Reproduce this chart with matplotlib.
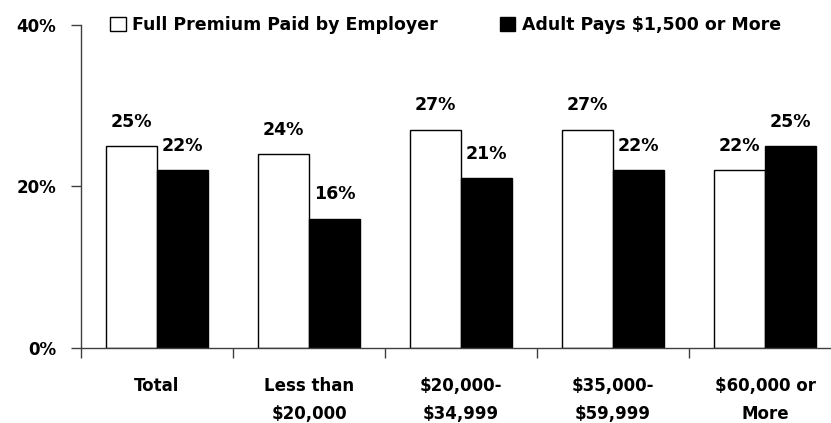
import matplotlib

matplotlib.use("Agg")
import matplotlib.pyplot as plt  # noqa: E402
import numpy as np  # noqa: E402
from matplotlib.patches import Patch  # noqa: E402
from matplotlib.ticker import FixedLocator  # noqa: E402

categories = ["Total", "Less than\n$20,000", "$20,000-\n$34,999",
              "$35,000-\n$59,999", "$60,000 or\nMore"]
full_premium = [25, 24, 27, 27, 22]
adult_pays = [22, 16, 21, 22, 25]
series_names = ["Full Premium Paid by Employer", "Adult Pays $1,500 or More"]
y_ticks = [0, 20, 40]

INK = "#000000"
AXIS = "#404040"

plt.rcParams.update({
    "font.family": ["DejaVu Sans"],
    "font.weight": "bold",
    "font.size": 12,
})

fig = plt.figure(figsize=(8.31, 4.23), dpi=100)
ax = fig.add_axes([0.0975, 0.178, 0.9146, 0.763])

x = np.arange(len(categories))
w = 0.335
b1 = ax.bar(x - w / 2, full_premium, w, color="white", edgecolor=INK, linewidth=1)
b2 = ax.bar(x + w / 2, adult_pays, w, color=INK, edgecolor=INK, linewidth=1)

for bars, vals in ((b1, full_premium), (b2, adult_pays)):
    for rect, v in zip(bars, vals):
        ax.annotate(f"{v}%", (rect.get_x() + rect.get_width() / 2, v),
                    xytext=(0, 14), textcoords="offset points",
                    ha="center", va="baseline", fontsize=12.5, fontweight="bold")

ax.set_xlim(-0.5, len(categories) - 0.5)
ax.set_ylim(0, 40)
ax.set_yticks(y_ticks)
ax.set_yticklabels([f"{t}%" for t in y_ticks])

ax.xaxis.set_major_locator(FixedLocator(np.arange(len(categories) + 1) - 0.5))
ax.xaxis.set_major_formatter(plt.NullFormatter())
ax.xaxis.set_minor_locator(FixedLocator(x))
ax.set_xticklabels(categories, minor=True, linespacing=1.75)
ax.tick_params(axis="x", which="minor", length=0, pad=21)
ax.tick_params(axis="x", which="major", length=7, width=1, color=AXIS, direction="out")
ax.tick_params(axis="y", length=7, width=1, color=AXIS, direction="out", pad=11)

for side in ("top", "right"):
    ax.spines[side].set_visible(False)
for side in ("left", "bottom"):
    ax.spines[side].set_color(AXIS)
    ax.spines[side].set_linewidth(1)

handles = [Patch(facecolor="white", edgecolor=INK, linewidth=1, label=series_names[0]),
           Patch(facecolor=INK, edgecolor=INK, linewidth=1, label=series_names[1])]
ax.legend(handles=handles, ncol=2, frameon=False, loc="center left",
          bbox_to_anchor=(0.038, 1.0), handlelength=0.9, handleheight=0.9,
          handletextpad=0.35, columnspacing=3.6, borderaxespad=0, borderpad=0,
          prop={"weight": "bold", "size": 12.5})

fig.savefig("out.png", dpi=100)
